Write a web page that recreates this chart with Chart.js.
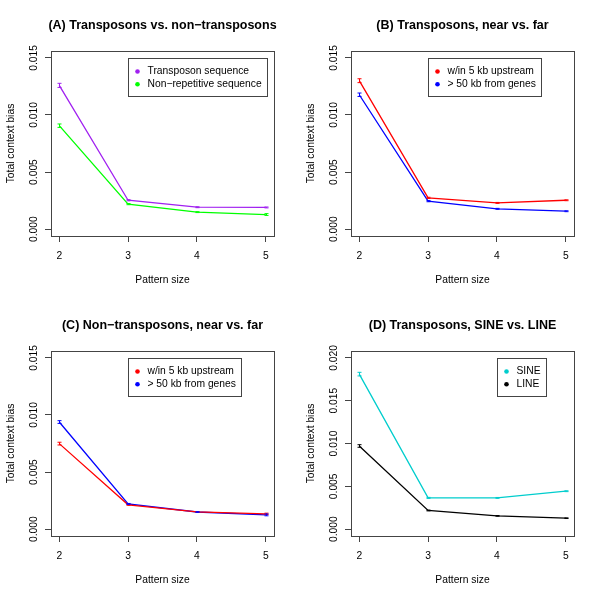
<!DOCTYPE html>
<html>
<head>
<meta charset="utf-8">
<script src="https://cdn.jsdelivr.net/npm/chart.js@4.4.1/dist/chart.umd.min.js"></script>
<style>
  html, body { margin: 0; padding: 0; background: #fff; }
  #grid { position: relative; width: 600px; height: 600px; }
  #grid canvas { position: absolute; }
</style>
</head>
<body>
<div id="grid">
  <canvas id="panelA" width="300" height="300" style="left:0;top:0"></canvas>
  <canvas id="panelB" width="300" height="300" style="left:300px;top:0"></canvas>
  <canvas id="panelC" width="300" height="300" style="left:0;top:300px"></canvas>
  <canvas id="panelD" width="300" height="300" style="left:300px;top:300px"></canvas>
</div>
<script>
// ---------- Data ----------
const patternSizes = [2, 3, 4, 5];
const xTicks = [2, 3, 4, 5];
const yTicksSmall = [0, 0.005, 0.010, 0.015];
const yTicksLarge = [0, 0.005, 0.010, 0.015, 0.020];

// (A) Transposons vs. non-transposons
const transposonSeq = [0.01259, 0.00253, 0.00192, 0.00190];
const transposonErr = [0.00018, 0.00005, 0.00004, 0.00004];
const nonRepetitiveSeq = [0.00906, 0.00219, 0.00149, 0.00128];
const nonRepetitiveErr = [0.00015, 0.00005, 0.00004, 0.00008];

// (B) Transposons, near vs. far
const transNear = [0.01300, 0.00274, 0.00230, 0.00253];
const transNearErr = [0.00017, 0.00005, 0.00004, 0.00004];
const transFar = [0.01177, 0.00245, 0.00178, 0.00157];
const transFarErr = [0.00015, 0.00005, 0.00004, 0.00004];

// (C) Non-transposons, near vs. far
const nonTransNear = [0.00749, 0.00213, 0.00151, 0.00134];
const nonTransNearErr = [0.00012, 0.00004, 0.00003, 0.00006];
const nonTransFar = [0.00938, 0.00221, 0.00150, 0.00125];
const nonTransFarErr = [0.00012, 0.00004, 0.00003, 0.00008];

// (D) Transposons, SINE vs. LINE
const sineBias = [0.01810, 0.00365, 0.00365, 0.00443];
const sineErr = [0.00021, 0.00006, 0.00005, 0.00005];
const lineBias = [0.00971, 0.00218, 0.00155, 0.00128];
const lineErr = [0.00015, 0.00005, 0.00004, 0.00004];

const FONT = '"Liberation Sans", Arial, Helvetica, sans-serif';
Chart.defaults.font.family = FONT;
Chart.defaults.animation = false;

// ---------- Plugins ----------
// R-style frame, rotated y tick labels, axis titles, main title, legend, error bars
const rStyle = {
  id: "rStyle",
  afterDatasetsDraw(chart) {
    const ctx = chart.ctx;
    const xs = chart.scales.x, ys = chart.scales.y;
    chart.data.datasets.forEach((ds) => {
      if (!ds.err) return;
      ctx.save();
      ctx.strokeStyle = ds.borderColor;
      ctx.lineWidth = 1;
      ds.data.forEach((pt, i) => {
        const px = Math.round(xs.getPixelForValue(pt.x)) + 0.5;
        const y1 = ys.getPixelForValue(pt.y - ds.err[i]);
        const y2 = ys.getPixelForValue(pt.y + ds.err[i]);
        ctx.beginPath();
        ctx.moveTo(px, y1); ctx.lineTo(px, y2);
        ctx.moveTo(px - 2, y1); ctx.lineTo(px + 2, y1);
        ctx.moveTo(px - 2, y2); ctx.lineTo(px + 2, y2);
        ctx.stroke();
      });
      ctx.restore();
    });
  },
  afterDraw(chart, args, opts) {
    const ctx = chart.ctx;
    const a = chart.chartArea;
    const xs = chart.scales.x, ys = chart.scales.y;
    ctx.save();
    // frame
    ctx.strokeStyle = "#444";
    ctx.lineWidth = 1;
    ctx.strokeRect(Math.round(a.left) + 0.5, Math.round(a.top) + 0.5,
      Math.round(a.right - a.left), Math.round(a.bottom - a.top));

    ctx.fillStyle = "#000";
    ctx.font = "10.3px " + FONT;
    ctx.textAlign = "center";
    ctx.textBaseline = "middle";
    // x tick labels
    xs.ticks.forEach((t) => {
      ctx.fillText(t.label, xs.getPixelForValue(t.value), a.bottom + 20);
    });
    // y tick labels (parallel to axis)
    ys.ticks.forEach((t) => {
      ctx.save();
      ctx.translate(a.left - 17, ys.getPixelForValue(t.value));
      ctx.rotate(-Math.PI / 2);
      ctx.fillText(t.label, 0, 0);
      ctx.restore();
    });
    // axis titles
    ctx.fillText("Pattern size", (a.left + a.right) / 2, a.bottom + 44);
    ctx.save();
    ctx.translate(11, (a.top + a.bottom) / 2);
    ctx.rotate(-Math.PI / 2);
    ctx.fillText("Total context bias", 0, 0);
    ctx.restore();
    // main title
    ctx.font = "bold 12.5px " + FONT;
    ctx.fillText(opts.title, (a.left + a.right) / 2, 26);

    // legend, top-left corner anchored at data coordinates
    ctx.font = "10.3px " + FONT;
    const lx = Math.round(xs.getPixelForValue(opts.legendAt[0])) + 0.5;
    const ly = Math.round(ys.getPixelForValue(opts.legendAt[1])) + 0.5;
    const dsets = chart.data.datasets;
    const tw = Math.max(...dsets.map((d) => ctx.measureText(d.label).width));
    const w = Math.round(19 + tw + 6);
    const h = 38;
    ctx.fillStyle = "#fff";
    ctx.fillRect(lx, ly, w, h);
    ctx.strokeStyle = "#444";
    ctx.strokeRect(lx, ly, w, h);
    ctx.textAlign = "left";
    dsets.forEach((d, i) => {
      const cy = ly + 13 + i * 12.7;
      ctx.fillStyle = d.borderColor;
      ctx.beginPath();
      ctx.arc(lx + 9, cy, 2.3, 0, Math.PI * 2);
      ctx.fill();
      ctx.fillStyle = "#000";
      ctx.fillText(d.label, lx + 19, cy);
    });
    ctx.restore();
  },
};

function toPoints(vals) {
  return vals.map((v, i) => ({ x: patternSizes[i], y: v }));
}

function makePanel(id, title, series, yTicks, yMin, yMax, legendAt) {
  return new Chart(document.getElementById(id), {
    type: "line",
    data: {
      datasets: series.map((s) => ({
        label: s.label,
        data: toPoints(s.values),
        err: s.err,
        borderColor: s.color,
        borderWidth: 1.3,
        pointRadius: 0,
        tension: 0,
        fill: false,
      })),
    },
    options: {
      responsive: false,
      layout: { padding: { top: 51, right: 26, left: 0, bottom: 0 } },
      plugins: {
        legend: { display: false },
        tooltip: { enabled: false },
        rStyle: { title, legendAt },
      },
      scales: {
        x: {
          type: "linear",
          min: 1.88,
          max: 5.12,
          afterBuildTicks: (s) => { s.ticks = xTicks.map((v) => ({ value: v })); },
          afterFit: (s) => { s.height = 64; },
          ticks: { display: false, callback: (v) => String(v) },
          grid: { drawOnChartArea: false, drawTicks: true, tickLength: 6, color: "#444" },
          border: { display: false },
        },
        y: {
          type: "linear",
          min: yMin,
          max: yMax,
          afterBuildTicks: (s) => { s.ticks = yTicks.map((v) => ({ value: v })); },
          afterFit: (s) => { s.width = 51; },
          ticks: { display: false, callback: (v) => v.toFixed(3) },
          grid: { drawOnChartArea: false, drawTicks: true, tickLength: 6, color: "#444" },
          border: { display: false },
        },
      },
    },
    plugins: [rStyle],
  });
}

makePanel("panelA", "(A) Transposons vs. non\u2212transposons", [
  { label: "Transposon sequence", values: transposonSeq, err: transposonErr, color: "#A020F0" },
  { label: "Non\u2212repetitive sequence", values: nonRepetitiveSeq, err: nonRepetitiveErr, color: "#00FF00" },
], yTicksSmall, -0.0006, 0.0156, [3, 0.015]);

makePanel("panelB", "(B) Transposons, near vs. far", [
  { label: "w/in 5 kb upstream", values: transNear, err: transNearErr, color: "#FF0000" },
  { label: "> 50 kb from genes", values: transFar, err: transFarErr, color: "#0000FF" },
], yTicksSmall, -0.0006, 0.0156, [3, 0.015]);

makePanel("panelC", "(C) Non\u2212transposons, near vs. far", [
  { label: "w/in 5 kb upstream", values: nonTransNear, err: nonTransNearErr, color: "#FF0000" },
  { label: "> 50 kb from genes", values: nonTransFar, err: nonTransFarErr, color: "#0000FF" },
], yTicksSmall, -0.0006, 0.0156, [3, 0.015]);

makePanel("panelD", "(D) Transposons, SINE vs. LINE", [
  { label: "SINE", values: sineBias, err: sineErr, color: "#00CDCD" },
  { label: "LINE", values: lineBias, err: lineErr, color: "#000000" },
], yTicksLarge, -0.0008, 0.0208, [4, 0.020]);
</script>
</body>
</html>
